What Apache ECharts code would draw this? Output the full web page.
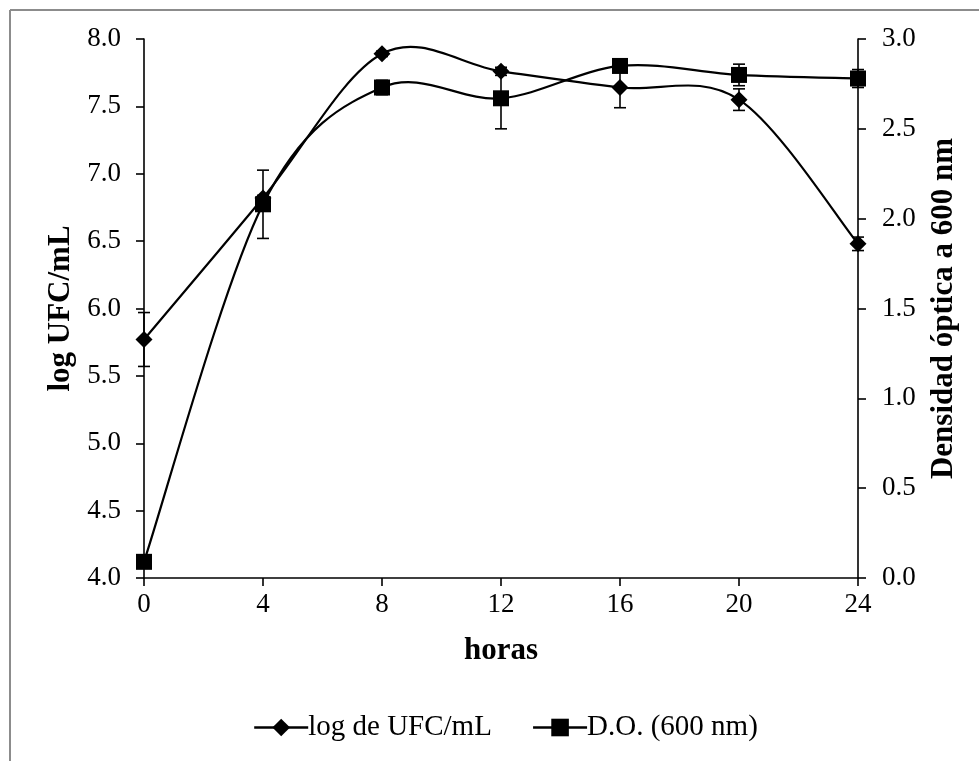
<!DOCTYPE html>
<html>
<head>
<meta charset="utf-8">
<script src="https://cdn.jsdelivr.net/npm/echarts@6/dist/echarts.min.js"></script>
<style>html,body{margin:0;padding:0;background:#fff;}#c{width:979px;height:761px;}</style>
</head>
<body>
<div id="c"></div>
<script>
const hours = [0, 4, 8, 12, 16, 20, 24];
const logUFC = [5.77, 6.82, 7.89, 7.76, 7.64, 7.55, 6.48];
const logUFCErr = [0.20, 0.02, 0.02, 0.03, 0.15, 0.08, 0.05];
const densidad = [0.09, 2.08, 2.73, 2.67, 2.85, 2.80, 2.78];
const densidadErr = [0.02, 0.19, 0.04, 0.17, 0.03, 0.06, 0.05];
const leftTicks = { min: 4.0, max: 8.0, step: 0.5 };
const rightTicks = { min: 0.0, max: 3.0, step: 0.5 };
const xTicks = { min: 0, max: 24, step: 4 };
const names = ['log de UFC/mL', 'D.O. (600 nm)'];

const FONT = '"Liberation Serif", "Times New Roman", serif';
const chart = echarts.init(document.getElementById('c'));

function errBar(params, api) {
  const x = api.value(0), y = api.value(1), e = api.value(2);
  const top = api.coord([x, y + e]);
  const bot = api.coord([x, y - e]);
  const w = 6;
  const st = { stroke: '#000', lineWidth: 1.6 };
  return {
    type: 'group',
    children: [
      { type: 'line', shape: { x1: top[0], y1: top[1], x2: bot[0], y2: bot[1] }, style: st },
      { type: 'line', shape: { x1: top[0] - w, y1: top[1], x2: top[0] + w, y2: top[1] }, style: st },
      { type: 'line', shape: { x1: bot[0] - w, y1: bot[1], x2: bot[0] + w, y2: bot[1] }, style: st }
    ]
  };
}

// Smoothed curve (Catmull-Rom style Bezier, like spreadsheet "smoothed line")
function makeCurve(xs, ys) {
  return function (params, api) {
    if (params.dataIndex !== 0) return null;
    const p = xs.map((x, i) => api.coord([x, ys[i]]));
    const n = p.length;
    const kids = [];
    for (let i = 0; i < n - 1; i++) {
      const a = p[Math.max(i - 1, 0)], b = p[i], c = p[i + 1], d = p[Math.min(i + 2, n - 1)];
      kids.push({
        type: 'bezierCurve',
        shape: {
          x1: b[0], y1: b[1], x2: c[0], y2: c[1],
          cpx1: b[0] + (c[0] - a[0]) / 6, cpy1: b[1] + (c[1] - a[1]) / 6,
          cpx2: c[0] - (d[0] - b[0]) / 6, cpy2: c[1] - (d[1] - b[1]) / 6
        },
        style: { stroke: '#000', lineWidth: 2.2, fill: null }
      });
    }
    return { type: 'group', children: kids };
  };
}

const axisLineStyle = { lineStyle: { color: '#000', width: 1.6 } };
const tickStyle = { show: true, inside: false, length: 8, lineStyle: { color: '#000', width: 1.6 } };

chart.setOption({
  backgroundColor: '#fff',
  animation: false,
  textStyle: { fontFamily: FONT },
  grid: { left: 144, right: 121, top: 39, bottom: 183, containLabel: false },
  legend: {
    data: [names[0], names[1]],
    left: 248,
    top: 708,
    itemWidth: 54,
    itemHeight: 22,
    itemGap: 40,
    lineStyle: { color: '#000', width: 2.4, opacity: 1 },
    textStyle: { fontFamily: FONT, fontSize: 29, color: '#000', padding: [0, 0, 0, -5] }
  },
  graphic: [
    { type: 'line', shape: { x1: 10, y1: 10, x2: 10, y2: 761 }, style: { stroke: '#8c8c8c', lineWidth: 2 }, silent: true },
    { type: 'line', shape: { x1: 10, y1: 10, x2: 979, y2: 10 }, style: { stroke: '#8c8c8c', lineWidth: 2 }, silent: true }
  ],
  xAxis: {
    type: 'value',
    min: xTicks.min, max: xTicks.max, interval: xTicks.step,
    name: 'horas',
    nameLocation: 'middle',
    nameGap: 57,
    nameTextStyle: { fontFamily: FONT, fontSize: 31, fontWeight: 'bold', color: '#000' },
    axisLine: axisLineStyle,
    axisTick: tickStyle,
    splitLine: { show: false },
    axisLabel: { fontFamily: FONT, fontSize: 27, color: '#000', margin: 13 }
  },
  yAxis: [
    {
      type: 'value',
      min: leftTicks.min, max: leftTicks.max, interval: leftTicks.step,
      position: 'left',
      name: 'log UFC/mL',
      nameLocation: 'middle',
      nameRotate: 90,
      nameGap: 65,
      nameTextStyle: { fontFamily: FONT, fontSize: 31, fontWeight: 'bold', color: '#000' },
      axisLine: { show: true, lineStyle: { color: '#000', width: 1.6 } },
      axisTick: tickStyle,
      splitLine: { show: false },
      axisLabel: { fontFamily: FONT, fontSize: 27, color: '#000', margin: 23, formatter: v => v.toFixed(1) }
    },
    {
      type: 'value',
      min: rightTicks.min, max: rightTicks.max, interval: rightTicks.step,
      position: 'right',
      name: 'Densidad óptica a 600 nm',
      nameLocation: 'middle',
      nameRotate: 90,
      nameGap: 70,
      nameTextStyle: { fontFamily: FONT, fontSize: 31, fontWeight: 'bold', color: '#000' },
      axisLine: { show: true, lineStyle: { color: '#000', width: 1.6 } },
      axisTick: tickStyle,
      splitLine: { show: false },
      axisLabel: { fontFamily: FONT, fontSize: 27, color: '#000', margin: 24, formatter: v => v.toFixed(1) }
    }
  ],
  series: [
    {
      type: 'custom', name: 'errA', yAxisIndex: 0, renderItem: errBar,
      data: hours.map((h, i) => [h, logUFC[i], logUFCErr[i]]), z: 1, silent: true
    },
    {
      type: 'custom', name: 'errB', yAxisIndex: 1, renderItem: errBar,
      data: hours.map((h, i) => [h, densidad[i], densidadErr[i]]), z: 1, silent: true
    },
    {
      type: 'custom', name: 'curveA', yAxisIndex: 0, renderItem: makeCurve(hours, logUFC),
      data: hours.map((h, i) => [h, logUFC[i]]), z: 2, silent: true
    },
    {
      type: 'custom', name: 'curveB', yAxisIndex: 1, renderItem: makeCurve(hours, densidad),
      data: hours.map((h, i) => [h, densidad[i]]), z: 2, silent: true
    },
    {
      type: 'line',
      name: names[0],
      yAxisIndex: 0,
      data: hours.map((h, i) => [h, logUFC[i]]),
      symbol: 'diamond',
      symbolSize: 17,
      itemStyle: { color: '#000' },
      lineStyle: { color: '#000', width: 2.2, opacity: 0 },
      z: 3
    },
    {
      type: 'line',
      name: names[1],
      yAxisIndex: 1,
      data: hours.map((h, i) => [h, densidad[i]]),
      symbol: 'rect',
      symbolSize: 16,
      itemStyle: { color: '#000' },
      lineStyle: { color: '#000', width: 2.2, opacity: 0 },
      z: 3
    }
  ]
});
</script>
</body>
</html>
